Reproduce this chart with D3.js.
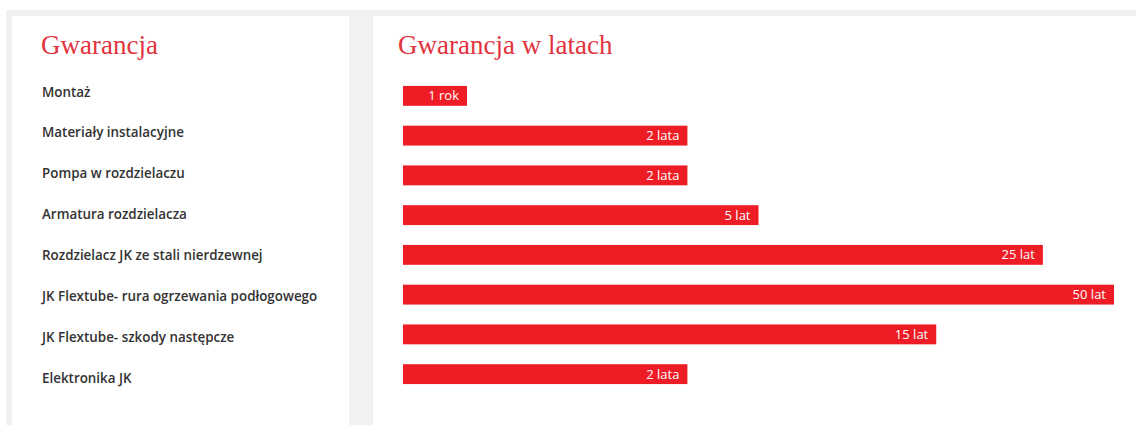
<!DOCTYPE html>
<html>
<head>
<meta charset="utf-8">
<script src="https://cdn.jsdelivr.net/npm/d3@7"></script>
<style>
  html, body { margin: 0; padding: 0; background: #ffffff; }
  svg { display: block; }
</style>
</head>
<body>
<div id="chart"></div>
<script>
// Data
const categories = [
    "Montaż",
    "Materiały instalacyjne",
    "Pompa w rozdzielaczu",
    "Armatura rozdzielacza",
    "Rozdzielacz JK ze stali nierdzewnej",
    "JK Flextube- rura ogrzewania podłogowego",
    "JK Flextube- szkody następcze",
    "Elektronika JK"
];
const durationLabels = ["1 rok", "2 lata", "2 lata", "5 lat", "25 lat", "50 lat", "15 lat", "2 lata"];
// bar length as share of the longest bar (%)
const barShare = [9, 40, 40, 50, 90, 100, 75, 40];

const leftTitle = "Gwarancja";
const rightTitle = "Gwarancja w latach";

// Style
const width = 1136, height = 425;
const fillStyle = {
    pageBg: "#ffffff",
    frameBg: "#f1f1f1",
    panelBg: "#ffffff",
    titleColor: "#e1343e",
    barColor: "#ee1d25",
    textColor: "#333333",
    barText: "#ffffff"
};

const svg = d3.select("#chart").append("svg")
    .attr("width", width)
    .attr("height", height);

// frame + panels
svg.append("rect").attr("x", 0).attr("y", 0).attr("width", width).attr("height", height).attr("fill", fillStyle.pageBg);
svg.append("rect").attr("x", 6).attr("y", 10).attr("width", width - 6).attr("height", height - 10).attr("fill", fillStyle.frameBg);
svg.append("rect").attr("x", 12).attr("y", 16).attr("width", 337).attr("height", height - 16).attr("fill", fillStyle.panelBg);
svg.append("rect").attr("x", 373).attr("y", 16).attr("width", width - 373).attr("height", height - 16).attr("fill", fillStyle.panelBg);

// titles
const titleFont = "'Liberation Serif', 'DejaVu Serif', serif";
svg.append("text")
    .attr("x", 41).attr("y", 54)
    .style("font-family", titleFont).style("font-size", "27px")
    .style("fill", fillStyle.titleColor)
    .text(leftTitle);
svg.append("text")
    .attr("x", 398).attr("y", 54)
    .style("font-family", titleFont).style("font-size", "27px")
    .style("fill", fillStyle.titleColor)
    .text(rightTitle);

// left column: category names
const yLabel = d3.scalePoint()
    .domain(categories)
    .range([96.5, 383]);

svg.append("g").selectAll("text")
    .data(categories)
    .join("text")
    .attr("x", 42)
    .attr("y", d => yLabel(d))
    .style("font-family", "'Open Sans', sans-serif")
    .style("font-size", "13.4px")
    .style("font-weight", 600)
    .style("fill", fillStyle.textColor)
    .text(d => d);

// right column: bars
const barLeft = 403, barMax = 711;
const x = d3.scaleLinear().domain([0, 100]).range([0, barMax]);
const yBar = d3.scaleBand()
    .domain(categories)
    .range([76, 394])
    .paddingInner(0.5)
    .paddingOuter(0.25);

const rows = categories.map((c, i) => ({ cat: c, share: barShare[i], label: durationLabels[i] }));

const g = svg.append("g").attr("transform", `translate(${barLeft},0)`);

g.selectAll("rect.mark")
    .data(rows)
    .join("rect")
    .attr("class", "mark")
    .attr("x", 0)
    .attr("y", d => yBar(d.cat))
    .attr("width", d => x(d.share))
    .attr("height", yBar.bandwidth())
    .attr("fill", fillStyle.barColor);

g.selectAll("text.label")
    .data(rows)
    .join("text")
    .attr("class", "label")
    .attr("x", d => x(d.share) - 8)
    .attr("y", d => yBar(d.cat) + yBar.bandwidth() / 2 + 4.6)
    .attr("text-anchor", "end")
    .style("font-family", "'Open Sans', sans-serif")
    .style("font-size", "13px")
    .style("fill", fillStyle.barText)
    .text(d => d.label);
</script>
</body>
</html>
